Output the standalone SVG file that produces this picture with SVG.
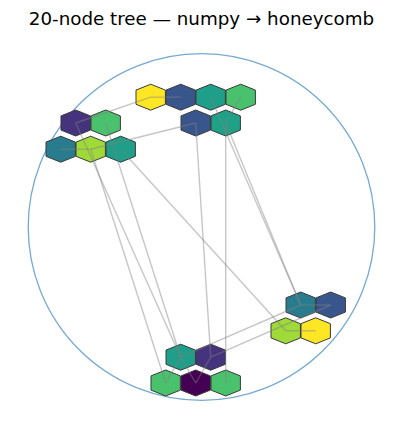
<svg xmlns="http://www.w3.org/2000/svg" xmlns:xlink="http://www.w3.org/1999/xlink" width="403" height="429" viewBox="0 0 403 429">
<style>
.hex{stroke:#3a3a3a;stroke-width:1}
.edge{stroke:#808080;stroke-opacity:0.45;stroke-width:1.4;fill:none}
.title{font-family:"DejaVu Sans",sans-serif;font-size:18.3px;fill:#000}
</style>
<defs>
<polygon id="hex" points="0,-13 14.7,-7.1 14.7,7.1 0,13 -14.7,7.1 -14.7,-7.1"/>
</defs>
<rect width="403" height="429" fill="#ffffff"/>
<text class="title" x="201.5" y="25.3" text-anchor="middle">20-node tree — numpy → honeycomb</text>
<circle cx="201.5" cy="227" r="173.3" fill="none" stroke="#76aad3" stroke-width="1.3"/>
<g id="nodes">
<g id="A1"><use xlink:href="#hex" class="hex" x="150.7" y="97.2" fill="#fde725"/></g>
<g id="A2"><use xlink:href="#hex" class="hex" x="180.7" y="97.2" fill="#39568c"/></g>
<g id="A3"><use xlink:href="#hex" class="hex" x="210.7" y="97.2" fill="#1f9e89"/></g>
<g id="A4"><use xlink:href="#hex" class="hex" x="240.7" y="97.2" fill="#4ac16d"/></g>
<g id="A5"><use xlink:href="#hex" class="hex" x="195.7" y="123" fill="#39568c"/></g>
<g id="A6"><use xlink:href="#hex" class="hex" x="225.7" y="123" fill="#1fa187"/></g>
<g id="B1"><use xlink:href="#hex" class="hex" x="75.7" y="123" fill="#46337e"/></g>
<g id="B2"><use xlink:href="#hex" class="hex" x="105.7" y="123" fill="#4ac16d"/></g>
<g id="B3"><use xlink:href="#hex" class="hex" x="60.7" y="149.2" fill="#287c8e"/></g>
<g id="B4"><use xlink:href="#hex" class="hex" x="90.7" y="149.2" fill="#a0da39"/></g>
<g id="B5"><use xlink:href="#hex" class="hex" x="120.7" y="149.2" fill="#1f9e89"/></g>
<g id="C1"><use xlink:href="#hex" class="hex" x="300.7" y="305" fill="#287c8e"/></g>
<g id="C2"><use xlink:href="#hex" class="hex" x="330.7" y="305" fill="#39568c"/></g>
<g id="C3"><use xlink:href="#hex" class="hex" x="285.7" y="330.8" fill="#a0da39"/></g>
<g id="C4"><use xlink:href="#hex" class="hex" x="315.7" y="330.8" fill="#fde725"/></g>
<g id="D1"><use xlink:href="#hex" class="hex" x="180.7" y="357.2" fill="#1f9e89"/></g>
<g id="D2"><use xlink:href="#hex" class="hex" x="210.7" y="357.2" fill="#46337e"/></g>
<g id="D3"><use xlink:href="#hex" class="hex" x="165.7" y="383" fill="#4ac16d"/></g>
<g id="D4"><use xlink:href="#hex" class="hex" x="195.7" y="383" fill="#440154"/></g>
<g id="D5"><use xlink:href="#hex" class="hex" x="225.7" y="383" fill="#4ac16d"/></g>
</g>
<g id="edges" class="edge">
<line x1="150.7" y1="97.2" x2="180.7" y2="97.2"/>
<line x1="75.7" y1="123" x2="150.7" y2="97.2"/>
<line x1="90.7" y1="149.2" x2="195.7" y2="123"/>
<line x1="60.7" y1="149.2" x2="90.7" y2="149.2"/>
<line x1="75.7" y1="123" x2="180.7" y2="357.2"/>
<line x1="105.7" y1="123" x2="180.7" y2="357.2"/>
<line x1="90.7" y1="149.2" x2="165.7" y2="383"/>
<line x1="120.7" y1="149.2" x2="285.7" y2="330.8"/>
<line x1="195.7" y1="123" x2="210.7" y2="357.2"/>
<line x1="225.7" y1="123" x2="225.7" y2="383"/>
<line x1="240.7" y1="97.2" x2="225.7" y2="123"/>
<line x1="210.7" y1="97.2" x2="300.7" y2="305"/>
<line x1="225.7" y1="123" x2="300.7" y2="305"/>
<line x1="180.7" y1="357.2" x2="300.7" y2="305"/>
<line x1="210.7" y1="357.2" x2="330.7" y2="305"/>
<line x1="300.7" y1="305" x2="330.7" y2="305"/>
<line x1="285.7" y1="330.8" x2="315.7" y2="330.8"/>
<line x1="195.7" y1="383" x2="180.7" y2="357.2"/>
<line x1="195.7" y1="383" x2="210.7" y2="357.2"/>
<line x1="165.7" y1="383" x2="180.7" y2="357.2"/>
</g>
</svg>
